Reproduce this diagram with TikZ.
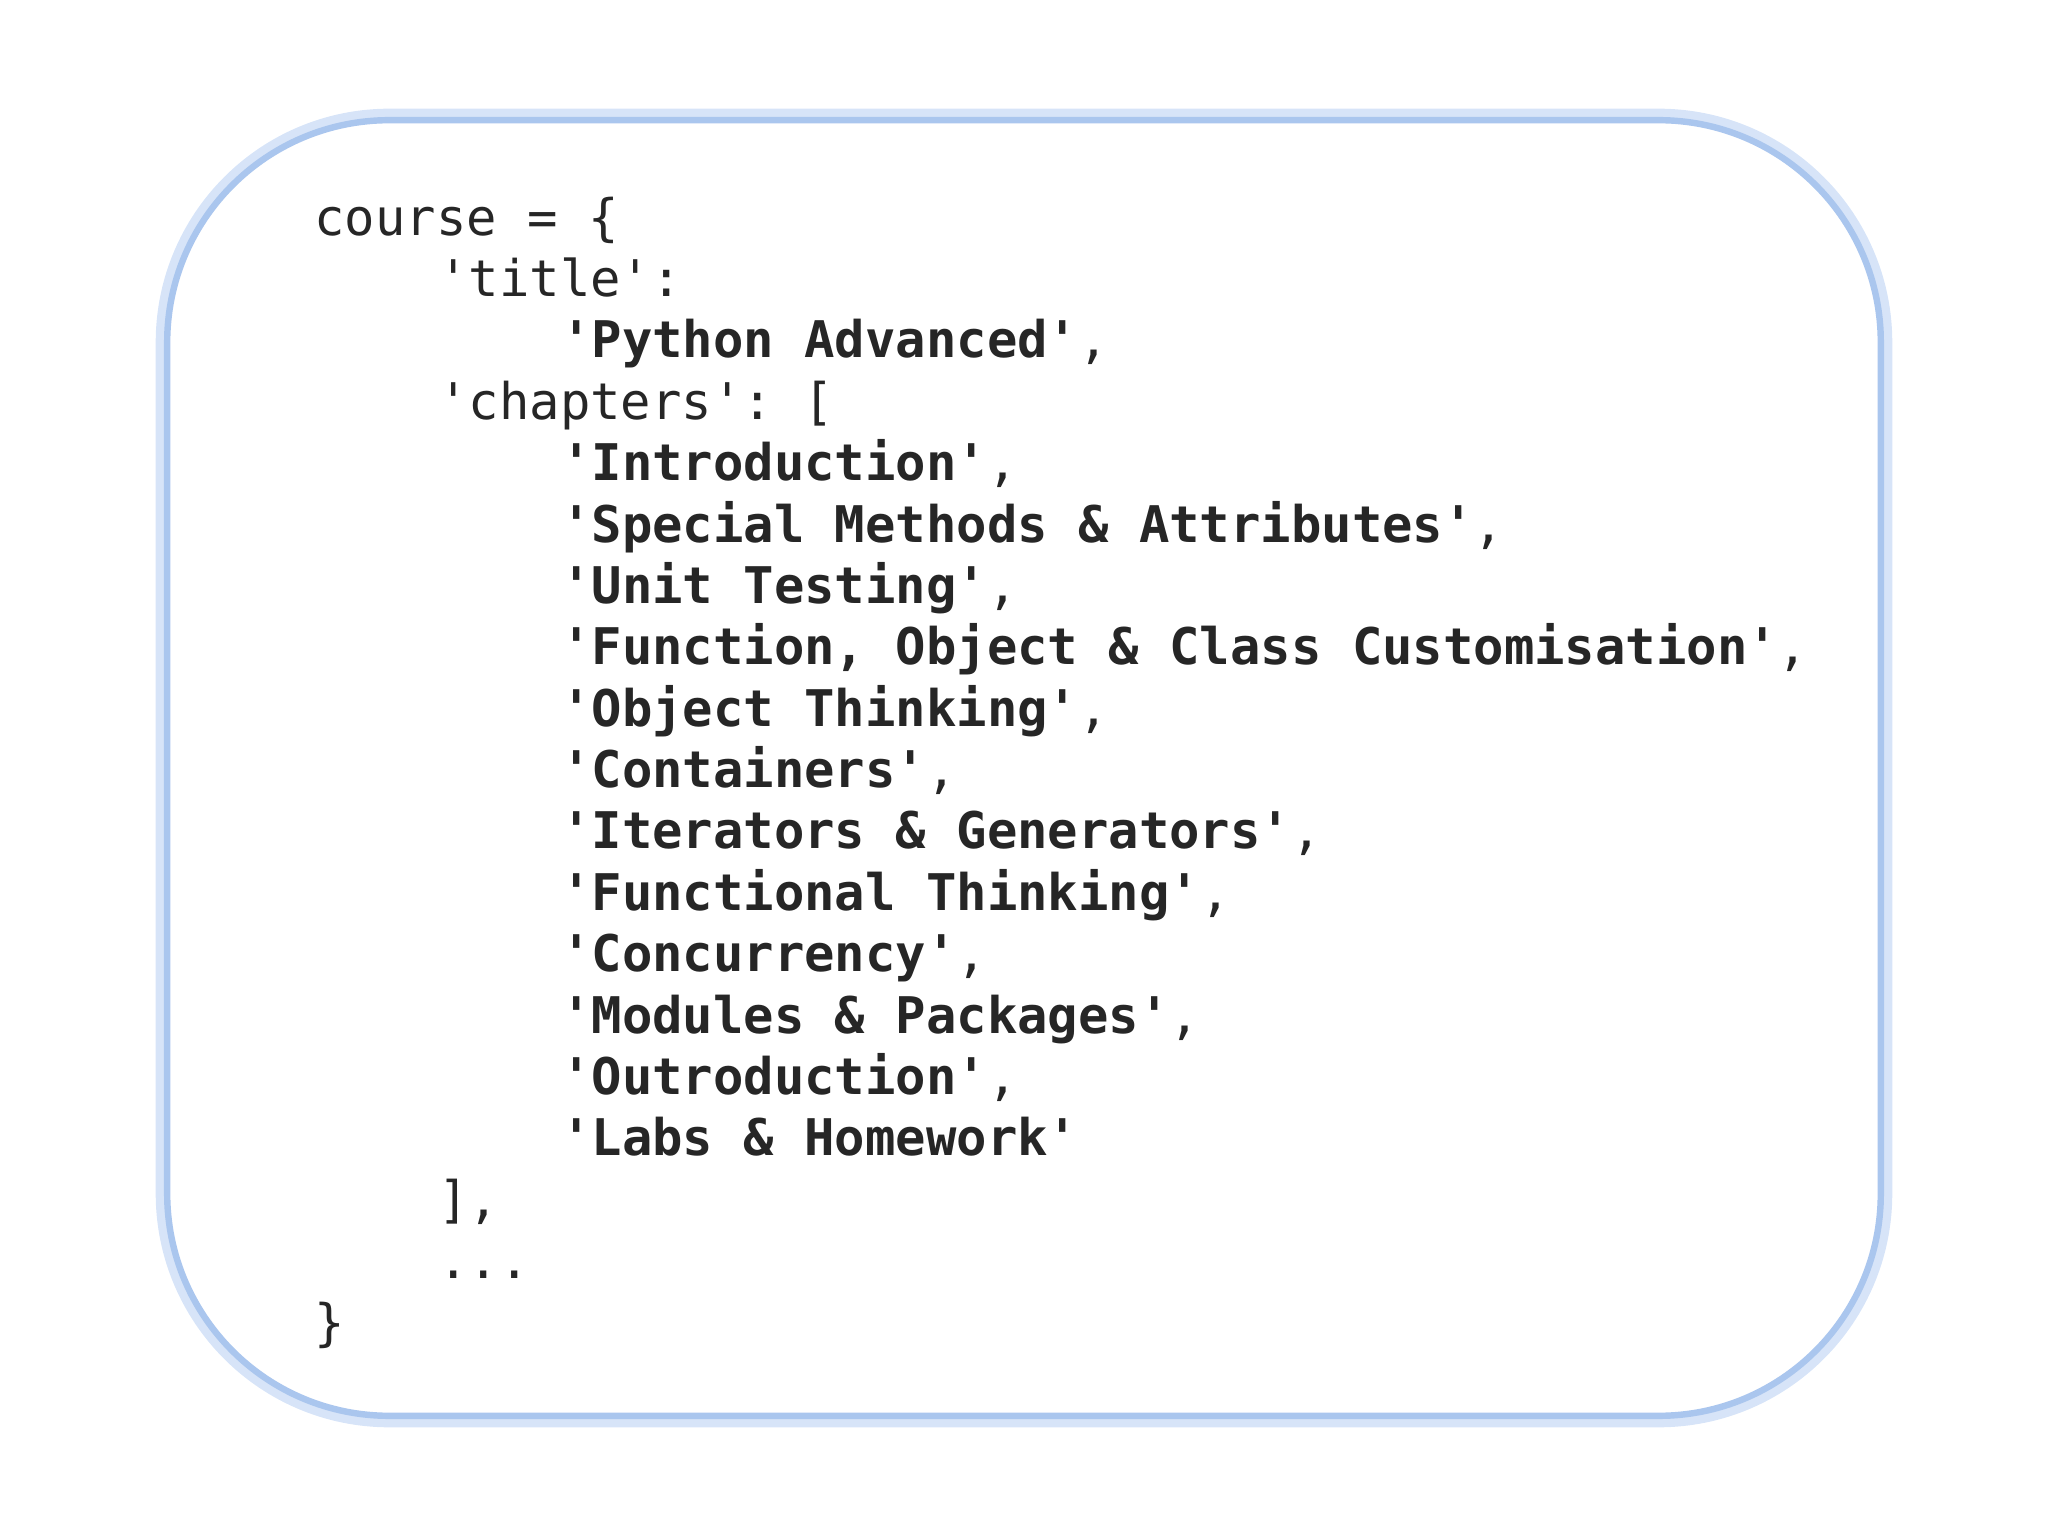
\documentclass[tikz,border=0pt]{standalone}
\usepackage{fontspec}
\setmonofont{DejaVu Sans Mono}
\begin{document}
\begin{tikzpicture}[x=0.01cm,y=-0.01cm,
  codeline/.style={anchor=base west,inner sep=0pt,font=\ttfamily\fontsize{11}{13}\selectfont,text=black!85}]
\definecolor{glow}{RGB}{215,228,248}
\definecolor{edge}{RGB}{170,198,238}
\useasboundingbox (0,0) rectangle (1568,1176);
\draw[glow,line width=5pt,rounded corners=1.7cm] (128,92) rectangle (1440,1084);
\draw[edge,line width=1.4pt,fill=white,rounded corners=1.7cm] (128,92) rectangle (1440,1084);
\newcommand{\cl}[4]{\node[codeline] (#1) at (#2,#3) {#4};}
\cl{l1}{240}{180}{course = \{}
\cl{l2}{335}{227}{'title':}
\cl{l3}{429}{274}{\textbf{'Python Advanced'},}
\cl{l4}{335}{321}{'chapters': [}
\cl{l5}{429}{368}{\textbf{'Introduction'},}
\cl{l6}{429}{415}{\textbf{'Special Methods \& Attributes'},}
\cl{l7}{429}{462}{\textbf{'Unit Testing'},}
\cl{l8}{429}{509}{\textbf{'Function, Object \& Class Customisation'},}
\cl{l9}{429}{556}{\textbf{'Object Thinking'},}
\cl{l10}{429}{603}{\textbf{'Containers'},}
\cl{l11}{429}{650}{\textbf{'Iterators \& Generators'},}
\cl{l12}{429}{697}{\textbf{'Functional Thinking'},}
\cl{l13}{429}{744}{\textbf{'Concurrency'},}
\cl{l14}{429}{791}{\textbf{'Modules \& Packages'},}
\cl{l15}{429}{838}{\textbf{'Outroduction'},}
\cl{l16}{429}{885}{\textbf{'Labs \& Homework'}}
\cl{l17}{335}{932}{],}
\cl{l18}{335}{979}{...}
\cl{l19}{240}{1026}{\}}
\end{tikzpicture}
\end{document}
